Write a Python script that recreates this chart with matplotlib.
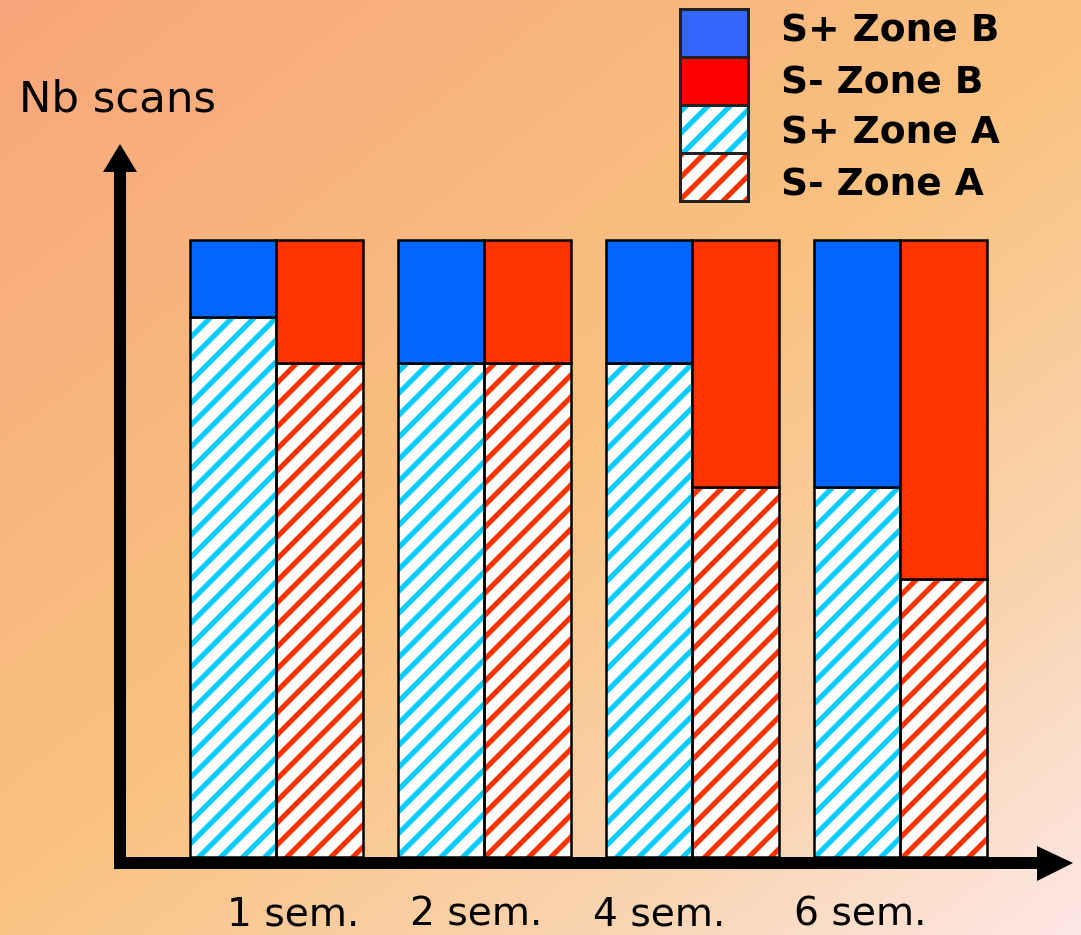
import numpy as np
import matplotlib
matplotlib.use("Agg")
import matplotlib.pyplot as plt
from matplotlib.patches import Polygon, Rectangle
from matplotlib.colors import LinearSegmentedColormap

# ---------------- data ----------------
groups = ["1 sem.", "2 sem.", "4 sem.", "6 sem."]
splus_zoneA = [87.5, 80, 80, 60]
sminus_zoneA = [80, 80, 60, 45]
splus_zoneB = [12.5, 20, 20, 40]
sminus_zoneB = [20, 20, 40, 55]
legend_labels = ["S+ Zone B", "S- Zone B", "S+ Zone A", "S- Zone A"]
y_label = "Nb scans"

# ---------------- style ----------------
C_BLUE = "#0066FF"
C_RED = "#FF3300"
C_CYAN = "#00CCFF"
C_HRED = "#FF3300"
C_LEG_BLUE = "#3366FF"
C_LEG_RED = "#FF0000"

W, H = 1081, 935
DPI = 132
S = 120.0 / DPI  # keep pixel sizes constant
plt.rcParams["hatch.linewidth"] = 3.1 * S
plt.rcParams["font.family"] = ["DejaVu Sans"]

fig = plt.figure(figsize=(W / DPI, H / DPI), dpi=DPI)

# background gradient
bg = fig.add_axes([0, 0, 1, 1], zorder=-10)
xx, yy = np.meshgrid(np.linspace(0, 1, 400), np.linspace(0, 1, 400))
t = (xx * 0.95 + yy * 1.05) / 2.0
cmap = LinearSegmentedColormap.from_list(
    "bg", [(0.0, "#F8A67B"), (0.5, "#F9C280"), (0.78, "#FAD4B0"), (1.0, "#FDE7E4")])
bg.imshow(t, cmap=cmap, aspect="auto", extent=[0, 1, 0, 1], origin="upper", vmin=0, vmax=1)
bg.axis("off")

ax = fig.add_axes([0, 0, 1, 1])
ax.patch.set_alpha(0)
ax.axis("off")

# layout: group centre pixel = 276 + 208*g ; value v -> pixel 857 - 6.17*v
gx0, gdx = 276.0, 208.0
py0, pscale = 857.0, 6.17
ax.set_xlim(-gx0 / gdx, (W - gx0) / gdx)
ax.set_ylim((py0 - H) / pscale, py0 / pscale)

xpos = np.arange(len(groups))
bw = 86.5 / gdx


def stacked(x, bottom_vals, top_vals, hatch_col, solid_col):
    # hatched zone A
    ax.bar(x, bottom_vals, width=bw, align="edge", color="white",
           edgecolor=hatch_col, hatch="//", linewidth=0, zorder=2)
    ax.bar(x, bottom_vals, width=bw, align="edge", fill=False,
           edgecolor="black", linewidth=1.5 * S, zorder=3)
    # solid zone B
    ax.bar(x, top_vals, bottom=bottom_vals, width=bw, align="edge",
           color=solid_col, edgecolor="black", linewidth=1.5 * S, zorder=3)


stacked(xpos - bw, splus_zoneA, splus_zoneB, C_CYAN, C_BLUE)
stacked(xpos, sminus_zoneA, sminus_zoneB, C_HRED, C_RED)


def P(x, y):
    return (x / W, 1 - y / H)


# axes arrows (drawn as polygons in pixel layout)
k = dict(transform=ax.transAxes, facecolor="black", edgecolor="none",
         clip_on=False, zorder=5)
ax.add_patch(Polygon([P(114, 869), P(126, 869), P(126, 170), P(114, 170)], **k))
ax.add_patch(Polygon([P(103, 172), P(137, 172), P(120, 144)], **k))
ax.add_patch(Polygon([P(114, 857), P(1040, 857), P(1040, 869), P(114, 869)], **k))
ax.add_patch(Polygon([P(1037, 846), P(1073, 863), P(1037, 881)], **k))

# category labels
label_x = [293, 476, 659, 860]
for lx, lab in zip(label_x, groups):
    ax.text(*P(lx, 926), lab, transform=ax.transAxes, ha="center", va="baseline",
            fontsize=23.5 * S, color="black")

# y label
ax.text(*P(19, 112), y_label, transform=ax.transAxes, ha="left", va="baseline",
        fontsize=26 * S, color="black")

# legend
leg_fill = [dict(facecolor=C_LEG_BLUE), dict(facecolor=C_LEG_RED),
            dict(facecolor="white", edgecolor=C_CYAN, hatch="//"),
            dict(facecolor="white", edgecolor=C_HRED, hatch="//")]
row_top = [9, 57, 105, 153]
row_h = 48
text_base = [42, 94, 144, 196]
for top, st, lab, tb in zip(row_top, leg_fill, legend_labels, text_base):
    x0, y0 = P(680, top + row_h)
    wfr = 68 / W
    hfr = row_h / H
    ax.add_patch(Rectangle((x0, y0), wfr, hfr, transform=ax.transAxes,
                           linewidth=0, clip_on=False, zorder=4, **st))
    ax.add_patch(Rectangle((x0, y0), wfr, hfr, transform=ax.transAxes, fill=False,
                           edgecolor="#222222", linewidth=1.8 * S, clip_on=False, zorder=5))
    ax.text(*P(781, tb), lab, transform=ax.transAxes, ha="left",
            va="baseline", fontsize=22.5 * S, fontweight="bold", color="black")

fig.savefig("out.png", dpi=DPI)
